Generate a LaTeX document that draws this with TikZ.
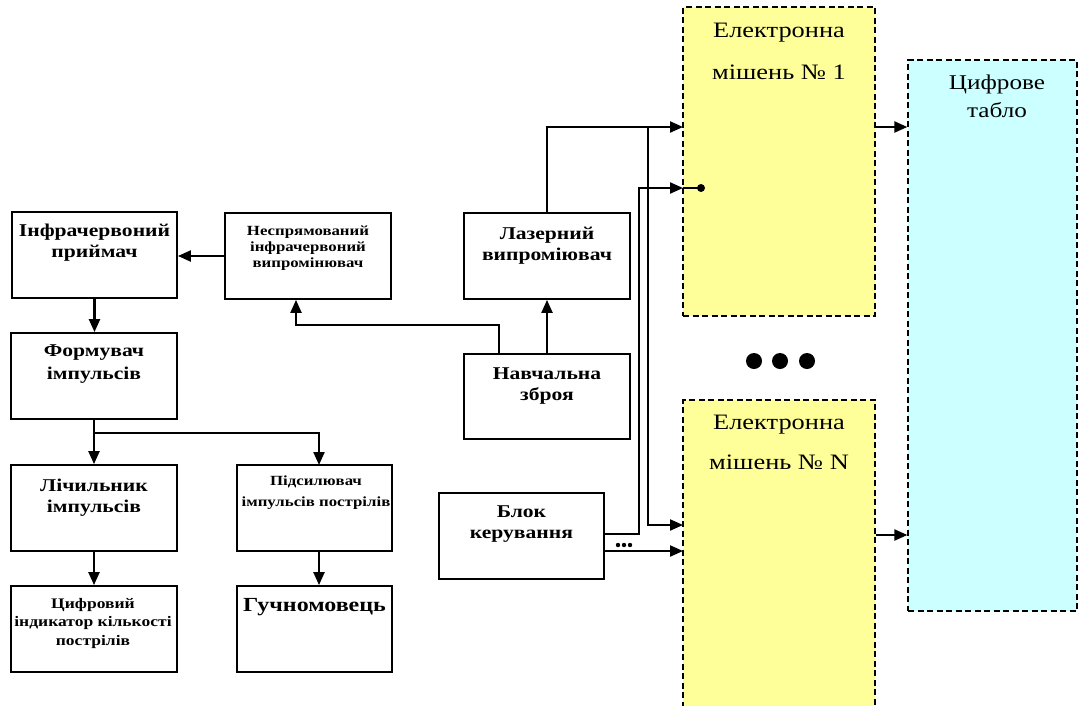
\documentclass[tikz,border=0pt]{standalone}
\usepackage{fontspec}
\setmainfont[FakeStretch=1.2]{Liberation Serif}
\usetikzlibrary{arrows.meta}
\definecolor{tyellow}{HTML}{FFFF99}
\definecolor{tcyan}{HTML}{CCFFFF}
\begin{document}
\begin{tikzpicture}[x=1pt,y=-1pt,
 box/.style={draw, line width=1.8pt, inner sep=0pt, fill=white},
 lbl/.style={align=center, inner sep=0pt, font=\bfseries\fontsize{18}{21}\selectfont},
 slbl/.style={align=center, inner sep=0pt, font=\bfseries\fontsize{14}{16}\selectfont},
 tgt/.style={draw, dash pattern=on 6pt off 3.5pt, line width=1.3pt, inner sep=0pt},
 tlbl/.style={align=center, inner sep=0pt, font=\fontsize{22}{42}\selectfont},
 conn/.style={line width=2.2pt, -{Triangle[length=13pt,width=11pt]}},
 wire/.style={line width=2.2pt}
]
\useasboundingbox (0,0) rectangle (1079,705);

% blocks
\node[box, minimum width=165pt, minimum height=86pt] (ir) at (94.5,255) {};
\node[lbl] (irT) at (94.5,243) {Інфрачервоний\\приймач};
\node[box, minimum width=166pt, minimum height=86pt] (nir) at (308,256) {};
\node[slbl] (nirT) at (308,248) {Неспрямований\\інфрачервоний\\випромінювач};
\node[box, minimum width=166pt, minimum height=86pt] (form) at (94,376) {};
\node[lbl, font=\bfseries\fontsize{18}{23}\selectfont] (formT) at (94,364.5) {Формувач\\імпульсів};
\node[box, minimum width=166pt, minimum height=86pt] (cnt) at (94,508) {};
\node[lbl] (cntT) at (94,497.5) {Лічильник\\імпульсів};
\node[box, minimum width=155pt, minimum height=86pt] (amp) at (314.5,508) {};
\node[slbl, font=\bfseries\fontsize{14}{21}\selectfont] (ampT) at (316,493) {Підсилювач\\імпульсів пострілів};
\node[box, minimum width=166pt, minimum height=86pt] (ind) at (94,629) {};
\node[slbl, font=\bfseries\fontsize{14.6}{18.5}\selectfont] (indT) at (93,623) {Цифровий\\індикатор кількості\\пострілів};
\node[box, minimum width=155pt, minimum height=86pt] (spk) at (314.5,629) {};
\node[lbl, font=\bfseries\fontsize{20}{24}\selectfont] (spkT) at (314.5,607) {Гучномовець};
\node[box, minimum width=166pt, minimum height=86pt] (las) at (547,256) {};
\node[lbl] (lasT) at (547,246) {Лазерний\\випроміювач};
\node[box, minimum width=166pt, minimum height=85pt] (wpn) at (547,396.5) {};
\node[lbl] (wpnT) at (547,386) {Навчальна\\зброя};
\node[box, minimum width=165pt, minimum height=86pt] (ctl) at (521.5,536) {};
\node[lbl] (ctlT) at (521.5,524) {Блок\\керування};

% targets and display
\node[tgt, fill=tyellow, minimum width=192pt, minimum height=309pt] (t1) at (779,161.5) {};
\node[tlbl] (t1T) at (779,51) {Електронна\\мішень № 1};
\node[tgt, fill=tyellow, minimum width=192pt, minimum height=312pt] (tN) at (779,556) {};
\node[tlbl, font=\fontsize{22}{40}\selectfont] (tNT) at (779,442) {Електронна\\мішень № N};
\node[tgt, fill=tcyan, minimum width=169pt, minimum height=551pt] (tab) at (992.5,335.5) {};
\node[tlbl, font=\fontsize{21}{28}\selectfont] (tabT) at (997,96) {Цифрове\\табло};

% coordinates on edges
\coordinate (t1a) at (683,127);
\coordinate (t1b) at (683,188);
\coordinate (tNa) at (683,525);
\coordinate (tNb) at (683,551);
\coordinate (j1) at (648,127);
\coordinate (j2) at (639,188);
\coordinate (ampin) at (319,465);
\coordinate (pin) at (701,188);

% left chain
\draw[conn] (nir.west) -- (nir.west -| ir.east);
\draw[conn] (ir.south) -- (ir.south |- form.north);
\draw[conn] (form.south) -- (form.south |- cnt.north);
\draw[conn] (form.south) -- ++(0,13) -| (ampin);
\draw[conn] (cnt.south) -- (cnt.south |- ind.north);
\draw[conn] (ampin |- amp.south) -- (ampin |- spk.north);

% weapon
\draw[conn] (wpn.north) -- (las.south);
\draw[conn] ([xshift=-48pt]wpn.north) -- ++(0,-28) -| ([xshift=-12pt]nir.south);

% laser to targets
\draw[conn] (las.north) |- (t1a);
\draw[conn] (j1) -- (j1 |- tNa) -- (tNa);

% control block
\draw[conn] ([yshift=2pt]ctl.east) -| (j2) -- (t1b);
\draw[wire] (t1b) -- (pin);
\fill (pin) circle (4pt);
\draw[conn] ([yshift=-15pt]ctl.east) -- (tNb);
\foreach \x in {618,624,630} \fill (\x,545) circle (2.2pt);

% targets to display
\draw[conn] (t1.east |- t1a) -- (tab.west |- t1a);
\draw[conn] (tN.east |- 0,535) -- (tab.west |- 0,535);

% ellipsis between targets
\foreach \x in {754,780,807} \fill (\x,361) circle (8pt);
\end{tikzpicture}
\end{document}
